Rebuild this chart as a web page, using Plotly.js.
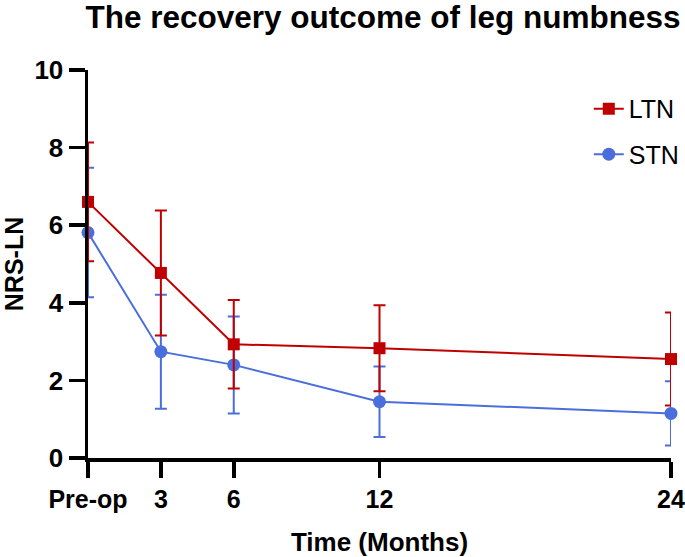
<!DOCTYPE html>
<html>
<head>
<meta charset="utf-8">
<script src="https://cdn.plot.ly/plotly-3.0.1.min.js"></script>
<style>
  body { margin: 0; background: #fff; }
  #chart { width: 685px; height: 557px; }
</style>
</head>
<body>
<div id="chart"></div>
<script>
var months = [0, 3, 6, 12, 24];
var tickText = ['Pre-op', '3', '6', '12', '24'];

var ltnMean = [6.6, 4.77, 2.93, 2.83, 2.55];
var ltnSD = [1.53, 1.61, 1.14, 1.11, 1.2];
var stnMean = [5.81, 2.74, 2.4, 1.45, 1.15];
var stnSD = [1.67, 1.47, 1.25, 0.91, 0.83];

var red = '#C00000';
var blue = '#4A6FDC';

// STN first so LTN sits on top, legend order fixed by legendrank
var stn = {
  x: months,
  y: stnMean,
  name: 'STN',
  type: 'scatter',
  mode: 'lines+markers',
  legendrank: 2,
  legendgroup: 'stn',
  cliponaxis: false,
  line: {color: blue, width: 2},
  marker: {color: blue, size: 13, symbol: 'circle'},
  error_y: {type: 'data', array: stnSD, visible: true, color: blue, thickness: 2, width: 6}
};
var ltn = {
  x: months,
  y: ltnMean,
  name: 'LTN',
  type: 'scatter',
  mode: 'lines+markers',
  legendrank: 1,
  legendgroup: 'ltn',
  cliponaxis: false,
  line: {color: red, width: 2},
  marker: {color: red, size: 12, symbol: 'square'},
  error_y: {type: 'data', array: ltnSD, visible: true, color: red, thickness: 2, width: 6}
};

var font = 'Liberation Sans, Arial, sans-serif';

var layout = {
  width: 685, height: 557,
  margin: {l: 88, r: 14, t: 70, b: 99, autoexpand: false},
  paper_bgcolor: '#fff', plot_bgcolor: '#fff',
  font: {family: font, color: '#000'},
  title: {
    text: '<b>The recovery outcome of leg numbness</b>',
    font: {family: font, size: 31.5, color: '#000'},
    xref: 'paper', x: 0.506, xanchor: 'center',
    yref: 'container', y: 0.99, yanchor: 'top'
  },
  xaxis: {
    range: [0, 24],
    tickvals: months,
    ticktext: tickText.map(function (t) { return '<b>' + t + '</b>'; }),
    tickfont: {family: font, size: 25, color: '#000'},
    ticklabeloverflow: 'allow',
    ticks: 'outside', ticklen: 16, tickwidth: 3.5, tickcolor: '#000',
    showline: true, linewidth: 3.5, linecolor: '#000',
    showgrid: false, zeroline: false,
    title: {text: '<b>Time (Months)</b>', font: {family: font, size: 26, color: '#000'}, standoff: 22}
  },
  yaxis: {
    range: [0, 10],
    tickvals: [0, 2, 4, 6, 8, 10],
    ticktext: ['<b>0</b>', '<b>2</b>', '<b>4</b>', '<b>6</b>', '<b>8</b>', '<b>10</b>'],
    tickfont: {family: font, size: 26, color: '#000'},
    ticklabeloverflow: 'allow',
    ticks: 'outside', ticklen: 16, tickwidth: 3.5, tickcolor: '#000',
    showline: true, linewidth: 3.5, linecolor: '#000',
    showgrid: false, zeroline: false,
    title: {text: '<b>NRS-LN</b>', font: {family: font, size: 25, color: '#000'}, standoff: 10}
  },
  showlegend: true,
  legend: {
    x: 0.859, xanchor: 'left',
    y: 0.959, yanchor: 'top',
    font: {family: font, size: 25, color: '#000'},
    bgcolor: 'rgba(0,0,0,0)',
    tracegroupgap: 10
  }
};

Plotly.newPlot('chart', [stn, ltn], layout, {displayModeBar: false, staticPlot: true});
</script>
</body>
</html>
